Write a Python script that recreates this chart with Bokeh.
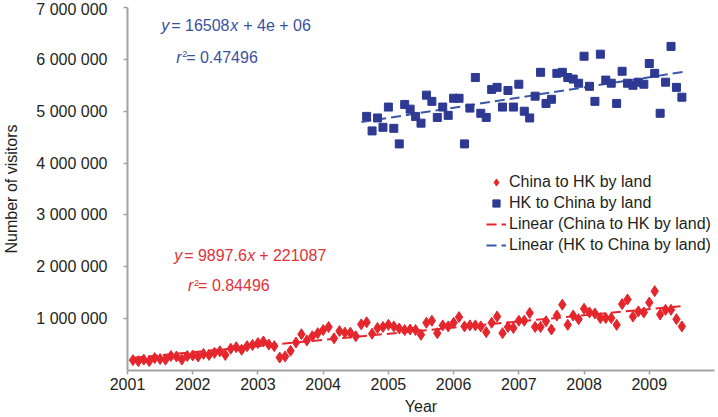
import numpy as np
from bokeh.plotting import figure
from bokeh.models import Range1d, FixedTicker, Label, Legend, LegendItem
from bokeh.embed import file_html
from bokeh.resources import INLINE

# ---------------- data ----------------
# monthly visitors, China -> HK by land, Jan 2001 .. Jun 2009 (millions)
china_to_hk_m = [
    0.20, 0.18, 0.21, 0.18, 0.24, 0.22, 0.21, 0.28, 0.27, 0.21,
    0.28, 0.29, 0.27, 0.32, 0.30, 0.34, 0.37, 0.30, 0.42, 0.45,
    0.40, 0.47, 0.49, 0.53, 0.56, 0.50, 0.47, 0.25, 0.27, 0.38,
    0.54, 0.70, 0.58, 0.66, 0.72, 0.78, 0.84, 0.62, 0.76, 0.73,
    0.73, 0.66, 0.89, 0.93, 0.71, 0.82, 0.84, 0.88, 0.85, 0.81,
    0.78, 0.79, 0.78, 0.69, 0.92, 0.96, 0.72, 0.87, 0.85, 0.92,
    1.03, 0.85, 0.87, 0.87, 0.85, 0.74, 0.92, 1.04, 0.72, 0.84,
    0.82, 0.96, 0.96, 1.11, 0.84, 0.84, 0.95, 0.79, 1.06, 1.27,
    0.88, 1.06, 0.99, 1.19, 1.12, 1.10, 1.01, 1.01, 1.01, 0.88,
    1.28, 1.37, 1.04, 1.14, 1.12, 1.31, 1.53, 1.08, 1.17, 1.17,
    0.99, 0.85,
]
china_start_month = 1

# monthly visitors, HK -> China by land, Aug 2004 .. Jun 2009 (millions)
hk_to_china_m = [
    4.90, 4.62, 4.87, 4.69, 5.08, 4.67, 4.37, 5.13, 5.04, 4.90,
    4.77, 5.31, 5.19, 4.88, 5.08, 4.92, 5.25, 5.25, 4.37, 5.06,
    5.65, 4.96, 4.88, 5.42, 5.46, 5.08, 5.40, 5.08, 5.52, 5.00,
    4.87, 5.29, 5.75, 5.15, 5.23, 5.73, 5.75, 5.65, 5.62, 5.54,
    6.06, 5.48, 5.19, 6.10, 5.60, 5.54, 5.15, 5.77, 5.54, 5.50,
    5.56, 5.52, 5.92, 5.73, 4.96, 5.56, 6.25, 5.46, 5.27,
]
hk_start_month = 44

x_ticks = [2001, 2002, 2003, 2004, 2005, 2006, 2007, 2008, 2009]
x_tick_labels = ["2001", "2002", "2003", "2004", "2005", "2006", "2007", "2008", "2009"]
y_ticks = [1000000, 2000000, 3000000, 4000000, 5000000, 6000000, 7000000]
y_tick_labels = ["1 000 000", "2 000 000", "3 000 000", "4 000 000",
                 "5 000 000", "6 000 000", "7 000 000"]

series_names = ["China to HK by land", "HK to China by land"]

# ---------------- derived ----------------
china_vals = np.array(china_to_hk_m) * 1e6
hk_vals = np.array(hk_to_china_m) * 1e6
china_months = np.arange(china_start_month, china_start_month + len(china_vals))
hk_months = np.arange(hk_start_month, hk_start_month + len(hk_vals))
china_x = 2001 + china_months / 12.0
hk_x = 2001 + hk_months / 12.0

a_c, b_c = np.polyfit(china_months, china_vals, 1)
a_h, b_h = np.polyfit(hk_months, hk_vals, 1)
c_tx = [china_x[0], china_x[-1]]
c_ty = [a_c * china_months[0] + b_c, a_c * china_months[-1] + b_c]
h_tx = [hk_x[0] - 0.08, hk_x[-1] + 0.05]
h_ty = [a_h * (hk_months[0] - 1) + b_h, a_h * (hk_months[-1] + 0.6) + b_h]

FONT = "Liberation Sans"
FS = "16px"
RED = "#e5262d"
RED_TXT = "#e2313a"
BLUE = "#2d3992"
BLUE_TXT = "#3b50a2"
BLUE_LINE = "#3b57a7"
TXT = "#231f20"
AXIS = "#a3a3a3"

p = figure(width=718, height=417, output_backend="svg", toolbar_location=None,
           x_range=Range1d(2001, 2010), y_range=Range1d(0, 7000000),
           min_border_left=123, min_border_right=4, min_border_top=7,
           min_border_bottom=46)
p.outline_line_color = None
p.grid.visible = False
p.background_fill_color = "white"

# trend lines
r_ct = p.line(c_tx, c_ty, line_color=RED, line_width=2, line_dash="10 5")
r_ht = p.line(h_tx, h_ty, line_color=BLUE_LINE, line_width=2, line_dash="10 5")

# points
r_c = p.scatter(china_x, china_vals, marker="diamond", size=11,
                fill_color=RED, line_color=RED)
r_h = p.scatter(hk_x, hk_vals, marker="square", size=8,
                fill_color=BLUE, line_color=BLUE)

# axes
for ax in (p.xaxis[0], p.yaxis[0]):
    ax.axis_line_color = AXIS
    ax.axis_line_width = 2
    ax.major_tick_line_color = AXIS
    ax.major_tick_line_width = 1.5
    ax.major_tick_in = 0
    ax.major_tick_out = 4
    ax.minor_tick_line_color = None
    ax.major_label_text_font = FONT
    ax.major_label_text_font_size = FS
    ax.major_label_text_color = TXT
    ax.axis_label_text_font = FONT
    ax.axis_label_text_font_size = FS
    ax.axis_label_text_font_style = "normal"
    ax.axis_label_text_color = TXT

p.xaxis.ticker = FixedTicker(ticks=x_ticks)
p.xaxis.major_label_overrides = dict(zip(x_ticks, x_tick_labels))
p.xaxis.major_label_standoff = 3
p.xaxis.axis_label = "Year"
p.xaxis.axis_label_standoff = 5

p.yaxis.ticker = FixedTicker(ticks=y_ticks)
p.yaxis.major_label_overrides = dict(zip(y_ticks, y_tick_labels))
p.yaxis.major_label_standoff = 16
p.yaxis.axis_label = "Number of visitors"
p.yaxis.axis_label_standoff = 13


# equation annotations (anchor in data space, piece offsets in pixels)
def add_text(x, y, text, color, style="normal", size=FS, xoff=0, baseline="middle"):
    p.add_layout(Label(x=x, y=y, text=text, text_color=color, text_font=FONT,
                       text_font_size=size, text_font_style=style,
                       text_baseline=baseline, text_align="left", x_offset=xoff))


def equation(x, y, slope_txt, rest_txt, color, x_pos, plus_pos):
    add_text(x, y, "y", color, style="italic")
    add_text(x, y, "= " + slope_txt, color, xoff=10)
    add_text(x, y, "x", color, style="italic", xoff=x_pos)
    add_text(x, y, "+ " + rest_txt, color, xoff=plus_pos)


def rsq(x, y, val_txt, color):
    add_text(x, y, "r", color, style="italic")
    add_text(x, y, "2", color, size="9px", xoff=6, baseline="bottom")
    add_text(x, y, "= " + val_txt, color, xoff=10)


equation(2001.517, 6654000, "16508", "4e + 06", BLUE_TXT, 69, 82)
rsq(2001.746, 6040000, "0.47496", BLUE_TXT)
equation(2001.715, 2210000, "9897.6", "221087", RED_TXT, 73, 85)
rsq(2001.929, 1635000, "0.84496", RED_TXT)

legend = Legend(items=[
    LegendItem(label=series_names[0], renderers=[r_c]),
    LegendItem(label=series_names[1], renderers=[r_h]),
    LegendItem(label="Linear (" + series_names[0] + ")", renderers=[r_ct]),
    LegendItem(label="Linear (" + series_names[1] + ")", renderers=[r_ht]),
], location=(359, 116))
legend.border_line_color = None
legend.background_fill_alpha = 0
legend.label_text_font = FONT
legend.label_text_font_size = FS
legend.label_text_color = TXT
legend.glyph_width = 20
legend.glyph_height = 18
legend.label_height = 18
legend.spacing = 3
legend.padding = 0
legend.margin = 0
legend.label_standoff = 3
p.add_layout(legend)

open("out.html", "w").write(file_html(p, INLINE))
